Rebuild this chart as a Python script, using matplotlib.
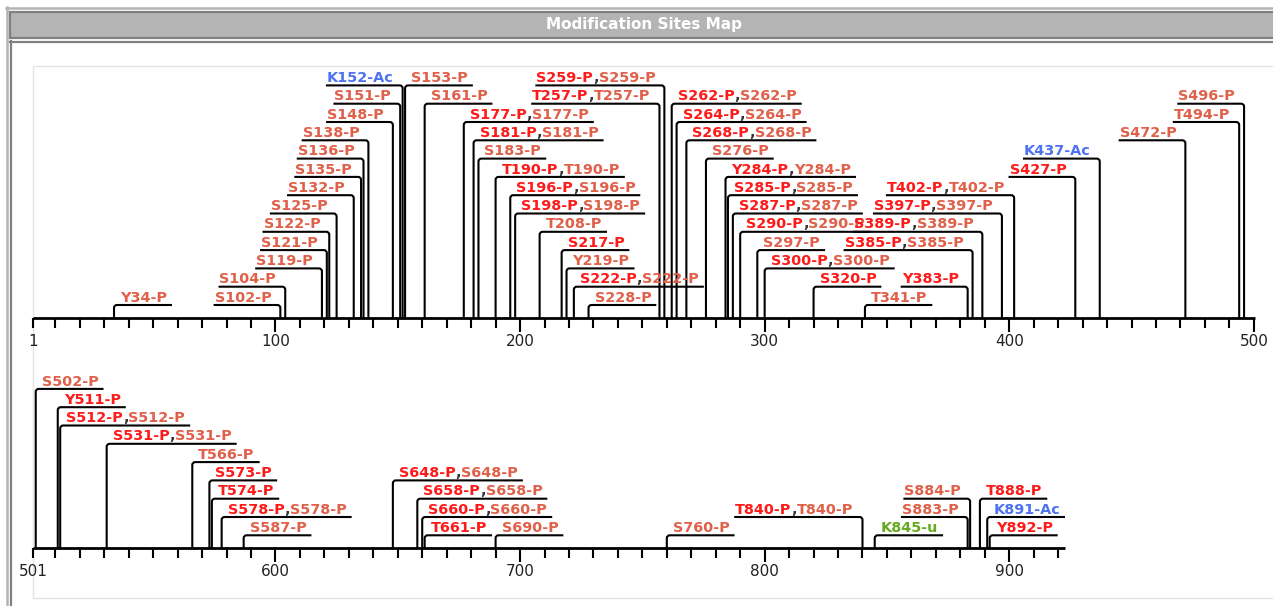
"""Modification sites map: two sequence tracks with stacked site labels."""
import matplotlib
matplotlib.use("Agg")
import matplotlib.pyplot as plt
from matplotlib.patches import PathPatch, Rectangle
from matplotlib.path import Path

# ── Track 1 sites (residues 1-500) ────────────────────────────────
T1_POS = [34, 102, 104, 119, 121, 122, 125, 132, 135, 136, 138, 148, 151, 152,
          153, 161, 177, 181, 183, 190, 196, 198, 208, 217, 219, 222, 228,
          257, 259, 262, 264, 268, 276, 284, 285, 287, 290, 297, 300, 320, 341,
          383, 385, 389, 397, 402, 427, 437, 472, 494, 496]
T1_LABELS = ["Y34-P", "S102-P", "S104-P", "S119-P", "S121-P", "S122-P", "S125-P",
             "S132-P", "S135-P", "S136-P", "S138-P", "S148-P", "S151-P", "K152-Ac",
             "S153-P", "S161-P", "S177-P,S177-P", "S181-P,S181-P", "S183-P",
             "T190-P,T190-P", "S196-P,S196-P", "S198-P,S198-P", "T208-P", "S217-P",
             "Y219-P", "S222-P,S222-P", "S228-P",
             "T257-P,T257-P", "S259-P,S259-P", "S262-P,S262-P", "S264-P,S264-P",
             "S268-P,S268-P", "S276-P", "Y284-P,Y284-P", "S285-P,S285-P",
             "S287-P,S287-P", "S290-P,S290-P", "S297-P", "S300-P,S300-P", "S320-P",
             "T341-P", "Y383-P", "S385-P,S385-P", "S389-P,S389-P", "S397-P,S397-P",
             "T402-P,T402-P", "S427-P", "K437-Ac", "S472-P", "T494-P", "S496-P"]
T1_LEVELS = [1, 1, 2, 3, 4, 5, 6, 7, 8, 9, 10, 11, 12, 13,
             13, 12, 11, 10, 9, 8, 7, 6, 5, 4, 3, 2, 1,
             12, 13, 12, 11, 10, 9, 8, 7, 6, 5, 4, 3, 2, 1,
             2, 4, 5, 6, 7, 8, 9, 10, 11, 12]
T1_SIDES = ["R", "L", "L", "L", "L", "L", "L", "L", "L", "L", "L", "L", "L", "L",
            "R", "R", "R", "R", "R", "R", "R", "R", "R", "R", "R", "R", "R",
            "L", "L", "R", "R", "R", "R", "R", "R", "R", "R", "R", "R", "R", "R",
            "L", "L", "L", "L", "L", "L", "L", "L", "L", "L"]
T1_KINDS = ["s", "s", "s", "s", "s", "s", "s", "s", "s", "s", "s", "s", "s", "b",
            "s", "s", "rs", "rs", "s", "rs", "rs", "rs", "s", "r", "s", "rs", "s",
            "rs", "rs", "rs", "rs", "rs", "s", "rs", "rs", "rs", "rs", "s", "rs", "r",
            "s", "r", "rs", "rs", "rs", "rs", "r", "b", "s", "s", "s"]

# ── Track 2 sites (residues 501-922) ──────────────────────────────
T2_POS = [502, 511, 512, 531, 566, 573, 574, 578, 587, 648, 658, 660, 661, 690,
          760, 840, 845, 883, 884, 888, 891, 892]
T2_LABELS = ["S502-P", "Y511-P", "S512-P,S512-P", "S531-P,S531-P", "T566-P",
             "S573-P", "T574-P", "S578-P,S578-P", "S587-P", "S648-P,S648-P",
             "S658-P,S658-P", "S660-P,S660-P", "T661-P", "S690-P", "S760-P",
             "T840-P,T840-P", "K845-u", "S883-P", "S884-P", "T888-P", "K891-Ac",
             "Y892-P"]
T2_LEVELS = [9, 8, 7, 6, 5, 4, 3, 2, 1, 4, 3, 2, 1, 1, 1, 2, 1, 2, 3, 3, 2, 1]
T2_SIDES = ["R", "R", "R", "R", "R", "R", "R", "R", "R", "R", "R", "R", "R", "R",
            "R", "L", "R", "L", "L", "R", "R", "R"]
T2_KINDS = ["s", "r", "rs", "rs", "s", "r", "r", "rs", "s", "rs", "rs", "rs", "r",
            "s", "s", "rs", "g", "s", "s", "r", "b", "r"]

T1_RANGE = (1, 500)
T2_RANGE = (501, 922)
T1_TICK_LABELS = [1, 100, 200, 300, 400, 500]
T2_TICK_LABELS = [501, 600, 700, 800, 900]

# ── Style ─────────────────────────────────────────────────────────
W, H = 1273, 606
PX_PER_RES = 2.446      # pixels per residue
LEVEL_PX = 18.3         # vertical spacing of label rows
FIRST_PX = 13.0         # first label row above the axis
X0_PX = 33.3            # x pixel of the first residue
RED, SALMON = "#ff1a1a", "#e0604a"
KIND_COLORS = {"r": RED, "s": SALMON, "b": "#4d72f2", "g": "#66aa1e"}
LABEL_FS = 10.4
LW = 1.5

fig = plt.figure(figsize=(W / 100, H / 100), dpi=100)
renderer = fig.canvas.get_renderer()

# ── Page frame (pixel coordinates) ────────────────────────────────
bg = fig.add_axes([0, 0, 1, 1])
bg.set_xlim(0, W)
bg.set_ylim(H, 0)
bg.axis("off")
bg.plot([6, W], [7.5, 7.5], color="#b4b4b4", lw=1.8)
bg.plot([6.5, 6.5], [7, H], color="#b4b4b4", lw=1.8)
bg.add_patch(Rectangle((10, 11.5), W + 20, 26, facecolor="#b4b4b4",
                       edgecolor="#808080", lw=1.6))
bg.text(644, 25, "Modification Sites Map", color="white", fontsize=11,
        fontweight="bold", ha="center", va="center")
bg.plot([10, W], [41.5, 41.5], color="#808080", lw=1.6)
bg.plot([10.5, 10.5], [41, H], color="#808080", lw=1.6)
bg.add_patch(Rectangle((33, 66), W, 532, facecolor="none",
                       edgecolor="#e4e4e4", lw=1.0))


def make_track(top_px, bottom_px, axis_px, start):
    ax = fig.add_axes([0, 1 - bottom_px / H, 1, (bottom_px - top_px) / H])
    ax.set_xlim(start - X0_PX / PX_PER_RES, start + (W - X0_PX) / PX_PER_RES)
    ax.set_ylim((axis_px - bottom_px) / LEVEL_PX, (axis_px - top_px) / LEVEL_PX)
    ax.axis("off")
    return ax


def draw_axis(ax, start, end, tick_labels):
    ax.plot([start, end + 0.6], [0, 0], color="black", lw=2.0,
            solid_capstyle="butt", zorder=3)
    ticks = [start] + list(range((start // 10 + 1) * 10, end + 1, 10))
    minor = [t for t in ticks if t % 100 != 0]
    major = [t for t in ticks if t % 100 == 0]
    ax.vlines(minor, -10 / LEVEL_PX, 0, color="black", lw=LW, zorder=3)
    ax.vlines(major, -14 / LEVEL_PX, 0, color="black", lw=LW, zorder=3)
    for t in tick_labels:
        ax.text(t, -23 / LEVEL_PX, str(t), ha="center", va="center",
                fontsize=11, color="#222222")


def draw_site(ax, x, label, level, side, kind):
    y = (FIRST_PX + (level - 1) * LEVEL_PX) / LEVEL_PX
    if kind == "rs":
        first, second = label.split(",")
        pieces = [(first, RED), (",", "#333333"), (second, SALMON)]
    else:
        pieces = [(label, KIND_COLORS[kind])]

    texts, widths = [], []
    for s, c in pieces:
        t = ax.text(x, y + 3.3 / LEVEL_PX, s, color=c, fontsize=LABEL_FS,
                    fontweight="bold", ha="left", va="baseline")
        texts.append(t)
        widths.append(t.get_window_extent(renderer).width / PX_PER_RES)
    total = sum(widths)

    rx, ry = 3 / PX_PER_RES, 3 / LEVEL_PX
    if side == "R":
        tx = x + 6 / PX_PER_RES
        tip = tx + total + 5 / PX_PER_RES
        corner = x + rx
    else:
        tx = x - 9 / PX_PER_RES - total
        tip = tx - 1 / PX_PER_RES
        corner = x - rx
    for t, w in zip(texts, widths):
        t.set_x(tx)
        tx += w

    verts = [(x, 0), (x, y - ry), (x, y), (corner, y), (tip, y)]
    codes = [Path.MOVETO, Path.LINETO, Path.CURVE3, Path.CURVE3, Path.LINETO]
    ax.add_patch(PathPatch(Path(verts, codes), fill=False, edgecolor="black",
                           lw=LW, capstyle="butt", zorder=2))


# ── Track 1 ───────────────────────────────────────────────────────
ax1 = make_track(50, 355, 318, T1_RANGE[0])
draw_axis(ax1, T1_RANGE[0], T1_RANGE[1], T1_TICK_LABELS)
for p, lab, lv, sd, kd in zip(T1_POS, T1_LABELS, T1_LEVELS, T1_SIDES, T1_KINDS):
    draw_site(ax1, p, lab, lv, sd, kd)

# ── Track 2 ───────────────────────────────────────────────────────
ax2 = make_track(360, 606, 548.3, T2_RANGE[0])
draw_axis(ax2, T2_RANGE[0], T2_RANGE[1], T2_TICK_LABELS)
for p, lab, lv, sd, kd in zip(T2_POS, T2_LABELS, T2_LEVELS, T2_SIDES, T2_KINDS):
    draw_site(ax2, p, lab, lv, sd, kd)

fig.savefig("out.png", dpi=100)
